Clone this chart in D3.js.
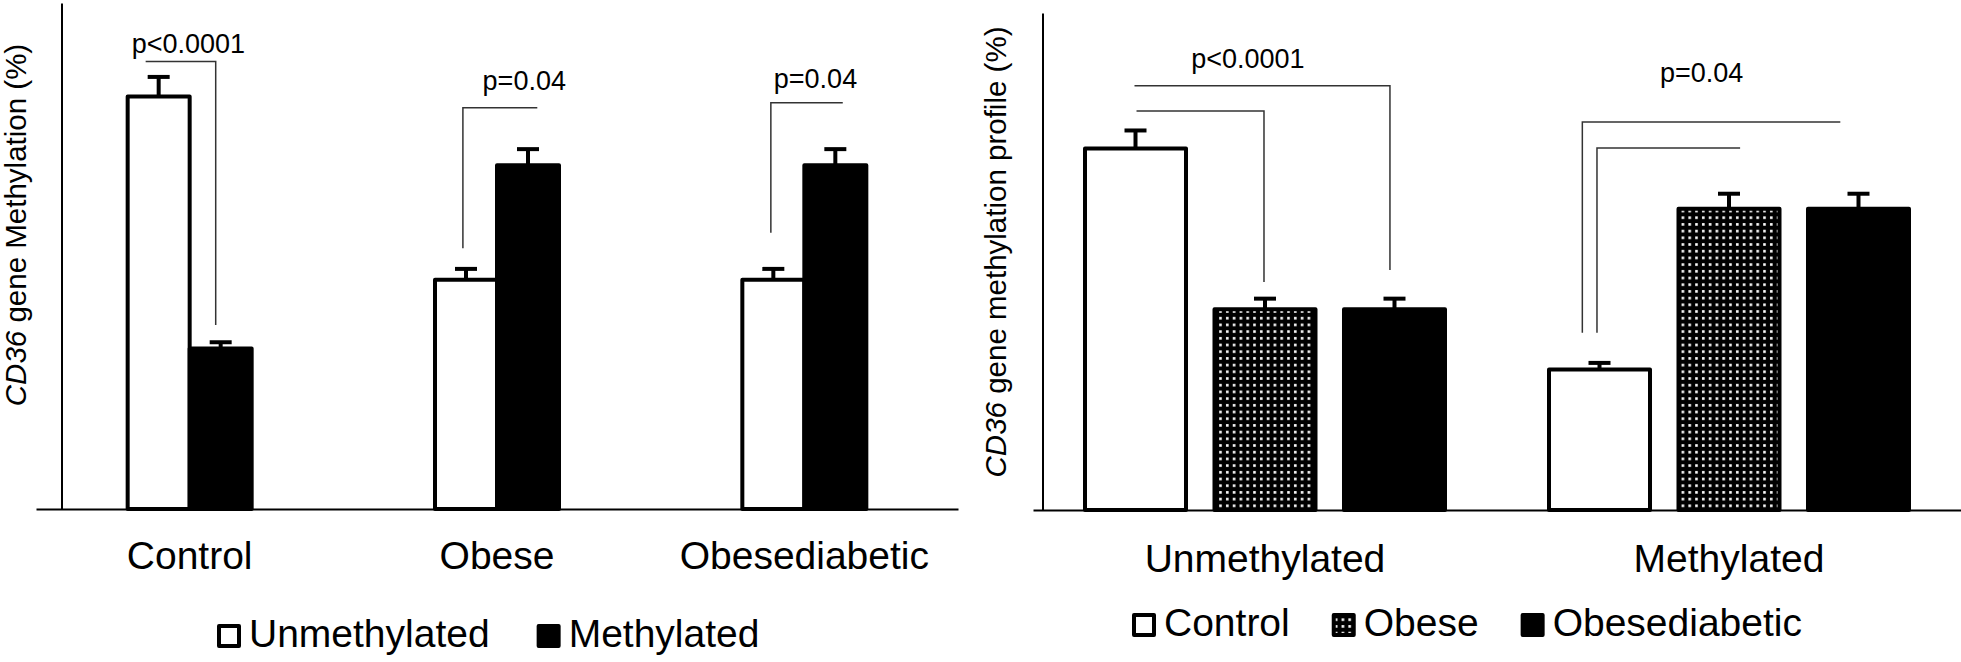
<!DOCTYPE html>
<html><head><meta charset="utf-8">
<script src="https://cdn.jsdelivr.net/npm/d3@7"></script>
<style>
html,body{margin:0;padding:0;background:#fff;}
svg{display:block;font-family:"Liberation Sans",Arial,sans-serif;}
</style></head><body>
<svg id="chart" width="1961" height="662"></svg>
<script>
// ---------- Left panel data ----------
const leftGroups = ["Control", "Obese", "Obesediabetic"];
const leftSeries = ["Unmethylated", "Methylated"];
const leftUnmethylated = [72, 40, 40];
const leftMethylated = [28, 60, 60];
const leftUnmethylatedErr = [3.4, 1.9, 1.9];
const leftMethylatedErr = [1.1, 2.8, 2.8];
const leftYLabel = ["CD36", " gene Methylation (%)"];
const leftPLabels = [
  {group: "Control", series: "Unmethylated", frac: 0.98, value: 79.6, text: "p<0.0001"},
  {group: "Obese", series: "Methylated", frac: 0.44, value: 73.1, text: "p=0.04"},
  {group: "Obesediabetic", series: "Methylated", frac: 0.18, value: 73.5, text: "p=0.04"}
];
const leftBrackets = [
  {group: "Control", pts: [["Unmethylated", 0.29, 78.1], ["Methylated", 0.42, 78.1], ["Methylated", 0.42, 32.1]]},
  {group: "Obese", pts: [["Unmethylated", 0.45, 45.5], ["Unmethylated", 0.45, 70.0], ["Methylated", 0.65, 70.0]]},
  {group: "Obesediabetic", pts: [["Unmethylated", 0.46, 48.2], ["Unmethylated", 0.46, 70.9], ["Methylated", 0.62, 70.9]]}
];

// ---------- Right panel data ----------
const rightGroups = ["Unmethylated", "Methylated"];
const rightSeries = ["Control", "Obese", "Obesediabetic"];
const rightControl = [72, 28];
const rightObese = [40, 60];
const rightObesediabetic = [40, 60];
const rightControlErr = [3.6, 1.3];
const rightObeseErr = [2.1, 3.0];
const rightObesediabeticErr = [2.1, 3.0];
const rightYLabel = ["CD36", " gene methylation profile (%)"];
const rightPLabels = [
  {group: "Unmethylated", series: "Obese", frac: 0.33, value: 88.0, text: "p<0.0001"},
  {group: "Methylated", series: "Obese", frac: 0.23, value: 85.3, text: "p=0.04"}
];
const rightBrackets = [
  {group: "Unmethylated", pts: [["Control", 0.51, 79.5], ["Obese", 0.49, 79.5], ["Obese", 0.49, 45.4]]},
  {group: "Unmethylated", pts: [["Control", 0.49, 84.5], ["Obesediabetic", 0.455, 84.5], ["Obesediabetic", 0.455, 47.8]]},
  {group: "Methylated", pts: [["Control", 0.33, 35.3], ["Control", 0.33, 77.3], ["Obesediabetic", 0.32, 77.3]]},
  {group: "Methylated", pts: [["Control", 0.475, 35.3], ["Control", 0.475, 72.1], ["Obese", 0.61, 72.1]]}
];

// ---------- Drawing ----------
const svg = d3.select("#chart");
const defs = svg.append("defs");
const pat = defs.append("pattern").attr("id", "dots")
  .attr("patternUnits", "userSpaceOnUse").attr("width", 6.8).attr("height", 6.7);
pat.append("rect").attr("width", 6.8).attr("height", 6.7).attr("fill", "#000");
pat.append("rect").attr("x", 2).attr("y", 2).attr("width", 2.6).attr("height", 2.6).attr("fill", "#fff");

const fills = {Unmethylated: "#fff", Methylated: "#000", Control: "#fff", Obese: "url(#dots)", Obesediabetic: "#000"};

function drawPanel(p) {
  const g = svg.append("g");
  const x0 = d3.scaleBand().domain(p.groups).range(p.xRange).padding(0);
  const x1 = d3.scaleBand().domain(p.series).range(p.innerRange).paddingInner(p.innerPad).paddingOuter(0);
  const y = d3.scaleLinear().domain([0, p.yMax]).range(p.yRange);
  const cx0 = gname => x0(gname) + x0.bandwidth() / 2;
  const xAt = (gname, s, f) => cx0(gname) + x1(s) + f * x1.bandwidth();

  const rows = [];
  p.groups.forEach((gname, i) => p.series.forEach((s, j) => {
    rows.push({group: gname, series: s, value: p.values[j][i], err: p.errors[j][i]});
  }));

  // axes
  const yAx = g.append("g").attr("transform", `translate(${p.yAxisX},0)`)
    .call(d3.axisLeft(y).tickValues([]).tickSizeOuter(0));
  yAx.select(".domain").attr("stroke", "#000").attr("stroke-width", 2);

  // bars
  g.append("g").selectAll("rect").data(rows).join("rect")
    .attr("x", d => cx0(d.group) + x1(d.series))
    .attr("width", x1.bandwidth())
    .attr("y", d => y(d.value))
    .attr("height", d => y(0) - y(d.value))
    .attr("fill", d => fills[d.series])
    .attr("stroke", "#000").attr("stroke-width", 4).attr("stroke-linejoin", "round");

  // error bars
  const eb = g.append("g").attr("stroke", "#000").attr("stroke-width", 4);
  eb.selectAll("line.v").data(rows).join("line").attr("class", "v")
    .attr("x1", d => xAt(d.group, d.series, 0.5)).attr("x2", d => xAt(d.group, d.series, 0.5))
    .attr("y1", d => y(d.value)).attr("y2", d => y(d.value + d.err));
  eb.selectAll("line.c").data(rows).join("line").attr("class", "c")
    .attr("x1", d => xAt(d.group, d.series, 0.5) - 11).attr("x2", d => xAt(d.group, d.series, 0.5) + 11)
    .attr("y1", d => y(d.value + d.err)).attr("y2", d => y(d.value + d.err));

  const xAx = g.append("g").attr("transform", `translate(0,${p.yRange[0]})`)
    .call(d3.axisBottom(x0).tickSize(0).tickSizeOuter(0).tickPadding(p.tickPad));
  xAx.select(".domain").attr("stroke", "#000").attr("stroke-width", 2);
  xAx.selectAll("text").attr("font-size", 39).attr("fill", "#000")
    .attr("font-family", "Liberation Sans, Arial, sans-serif");

  // brackets
  const line = d3.line();
  g.append("g").selectAll("path").data(p.brackets).join("path")
    .attr("d", b => line(b.pts.map(q => [xAt(b.group, q[0], q[1]), y(q[2])])))
    .attr("fill", "none").attr("stroke", "#333").attr("stroke-width", 1.5);

  // p labels
  g.append("g").selectAll("text").data(p.pLabels).join("text")
    .attr("x", d => xAt(d.group, d.series, d.frac))
    .attr("y", d => y(d.value))
    .attr("text-anchor", "middle").attr("font-size", 27).attr("fill", "#000")
    .text(d => d.text);

  // y label
  const yl = g.append("text")
    .attr("transform", `translate(${p.yLabelPos[0]},${p.yLabelPos[1]}) rotate(-90)`)
    .attr("text-anchor", "middle").attr("font-size", 29.5).attr("fill", "#000");
  yl.append("tspan").attr("font-style", "italic").text(p.yLabel[0]);
  yl.append("tspan").text(p.yLabel[1]);

  // legend
  const lg = g.append("g");
  let lx = p.legendX;
  p.series.forEach(s => {
    lg.append("rect").attr("x", lx + 2).attr("y", p.legendY - 21)
      .attr("width", 20).attr("height", 20)
      .attr("fill", fills[s]).attr("stroke", "#000").attr("stroke-width", 4)
      .attr("stroke-linejoin", "round");
    const t = lg.append("text").attr("x", lx + 32).attr("y", p.legendY)
      .attr("font-size", 39).attr("fill", "#000").text(s);
    lx = lx + 32 + t.node().getComputedTextLength() + p.legendGap;
  });
}

drawPanel({
  groups: leftGroups, series: leftSeries,
  values: [leftUnmethylated, leftMethylated],
  errors: [leftUnmethylatedErr, leftMethylatedErr],
  xRange: [36, 958], innerRange: [-62, 62], innerPad: 0,
  yMax: 88.3, yRange: [509, 3], yAxisX: 61.5, tickPad: 32,
  brackets: leftBrackets, pLabels: leftPLabels,
  yLabel: leftYLabel, yLabelPos: [26, 225],
  legendX: 217, legendY: 647, legendGap: 47
});

drawPanel({
  groups: rightGroups, series: rightSeries,
  values: [rightControl, rightObese, rightObesediabetic],
  errors: [rightControlErr, rightObeseErr, rightObesediabeticErr],
  xRange: [1033, 1961], innerRange: [-180, 180], innerPad: 0.22,
  yMax: 99, yRange: [510, 13], yAxisX: 1042.5, tickPad: 34,
  brackets: rightBrackets, pLabels: rightPLabels,
  yLabel: rightYLabel, yLabelPos: [1006, 252],
  legendX: 1132, legendY: 636, legendGap: 42
});
</script>
</body></html>
